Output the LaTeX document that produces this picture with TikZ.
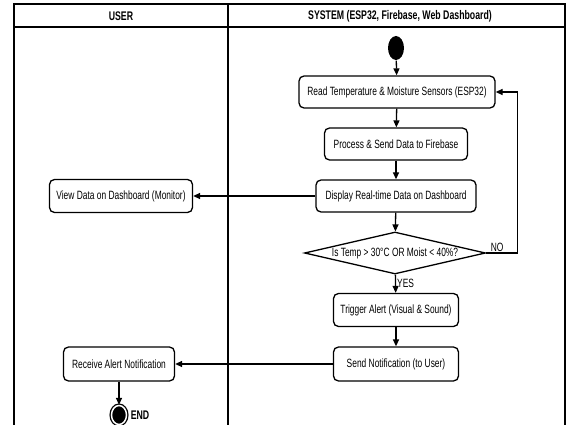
\documentclass[tikz,border=0pt]{standalone}
\usepackage{fontspec}
\setmainfont[FakeStretch=0.7]{Liberation Sans}
\usetikzlibrary{arrows.meta, positioning, shapes.geometric}

\begin{document}
\begin{tikzpicture}[x=1pt, y=-1pt, line width=1.3pt, >={Triangle[length=7pt,width=6pt]},
        action/.style={draw, rounded corners=5pt, minimum height=32, inner sep=3pt, font=\fontsize{12}{14}\selectfont},
        decision/.style={draw, diamond, aspect=4.3, minimum width=181, minimum height=42, inner sep=0pt, font=\fontsize{12}{14}\selectfont},
        lane/.style={font=\bfseries\fontsize{12.5}{14}\selectfont},
        tag/.style={font=\fontsize{12}{14}\selectfont, inner sep=1pt}]
        \useasboundingbox (0,0) rectangle (568,425);

        \draw (14,425) -- (14,4) -- (565,4) -- (565,425);
        \draw (14,27) -- (565,27);
        \draw (228,4) -- (228,425);
        \node[lane] (user) at (121,16) {USER};
        \node[lane] (system) at (400,16) {SYSTEM (ESP32, Firebase, Web Dashboard)};

        \node[ellipse, fill, minimum width=16, minimum height=24, inner sep=0pt] (start) at (396,48) {};
        \node[action, minimum width=196] (read) at (397,92) {Read Temperature \& Moisture Sensors (ESP32)};
        \node[action, minimum width=143] (process) at (396,144) {Process \& Send Data to Firebase};
        \node[action, minimum width=160] (display) at (396,196) {Display Real-time Data on Dashboard};
        \node[decision] (check) at (395,253) {Is Temp > 30°C OR Moist < 40\%?};
        \node[action, minimum width=125, minimum height=33] (trigger) at (396,310) {Trigger Alert (Visual \& Sound)};
        \node[action, minimum width=125, minimum height=34] (send) at (396,364) {Send Notification (to User)};

        \node[action, minimum width=143, minimum height=33] (view) at (121,196) {View Data on Dashboard (Monitor)};
        \node[action, minimum width=111, minimum height=34] (receive) at (119,364) {Receive Alert Notification};
        \node[ellipse, draw, fill, minimum width=15, minimum height=19, inner sep=0pt, double=white, double distance=1.5pt] (end) at (119,415) {};
        \node[lane, anchor=west, inner sep=1pt] (endtag) at ([xshift=2pt]end.east) {END};

        \draw[->] (start) -- (read);
        \draw[->] (read) -- (process);
        \draw[->] (process) -- (display);
        \draw[->] (display) -- (view);
        \draw[->] (display) -- (check);
        \draw[->] (check) -- node[tag, right] (yes) {YES} (trigger);
        \draw[->] (check.east) -- ++(31,0) |- (read.east);
        \node[tag, anchor=south west] (no) at ([xshift=3pt]check.east) {NO};
        \draw[->] (trigger) -- (send);
        \draw[->] (send) -- (receive);
        \draw[->] (receive) -- (end);
\end{tikzpicture}
\end{document}
